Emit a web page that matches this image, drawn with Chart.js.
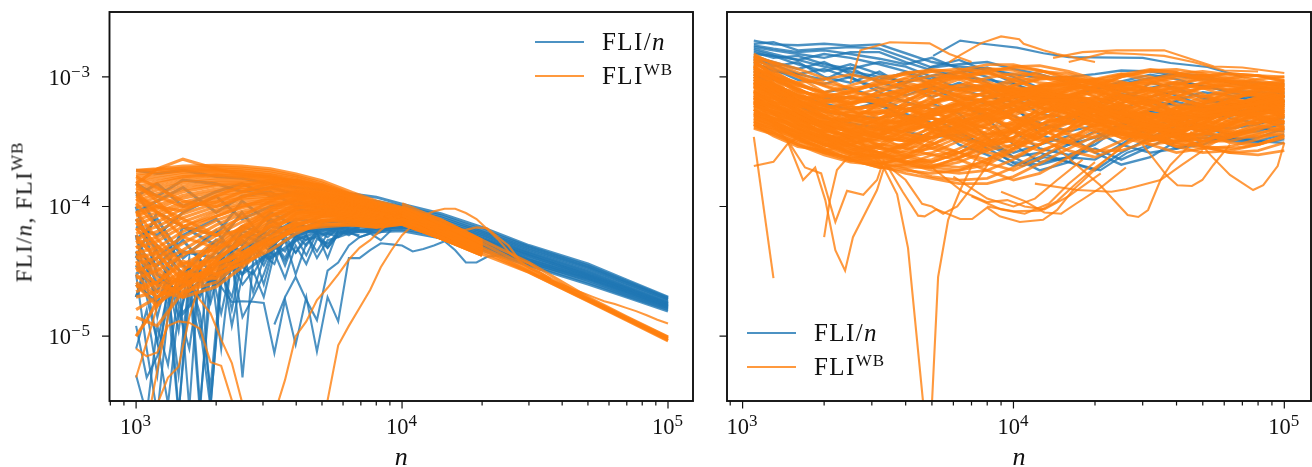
<!DOCTYPE html>
<html>
<head>
<meta charset="utf-8">
<script src="https://cdn.jsdelivr.net/npm/chart.js@4"></script>
<style>
  body { margin: 0; background: #fff; width: 1312px; height: 467px; overflow: hidden; position: relative; font-family: 'Liberation Serif', serif; color: #111; }
  canvas { position: absolute; top: 0; }
  .legend-line { position: absolute; height: 2.2px; width: 49px; }
  .legend-text { position: absolute; font-size: 25px; line-height: 24px; white-space: nowrap; letter-spacing: 1.4px; }
  .legend-text sup, #yTitle sup { font-size: 17px; line-height: 0; vertical-align: 9px; letter-spacing: 1px; }
  .tick-label { position: absolute; font-size: 22.5px; line-height: 21px; white-space: nowrap; }
  .tick-label sup { font-size: 17px; line-height: 0; vertical-align: 8px; letter-spacing: 1px; }
  #yTitle { position: absolute; left: 24px; top: 212px; font-size: 23px; line-height: 23px; letter-spacing: 1.3px; white-space: nowrap; transform: translate(-50%, -50%) rotate(-90deg); }
</style>
</head>
<body>
<canvas id="leftChart" width="712" height="467" style="left:0"></canvas>
<canvas id="rightChart" width="600" height="467" style="left:712px"></canvas>
<div id="yTitle">FLI/<i>n</i>, FLI<sup>WB</sup></div>
<script>
// all y values below are in units of 1e-6
const BLUE = 'rgba(31, 119, 180, 0.8)';
const ORANGE = 'rgba(255, 127, 14, 0.8)';
const _ = null;

const xTicks = [800, 900, 1000, 2000, 3000, 4000, 5000, 6000, 7000, 8000, 9000, 10000, 20000, 30000, 40000, 50000, 60000, 70000, 80000, 90000, 100000];
const xMajor = [1000, 10000, 100000];
const xExponents = ['3', '4', '5'];
const yTicks = [1e-3, 1e-4, 1e-5];
const yExponents = ['−3', '−4', '−5'];

const nBand = [1000, 1200, 1500, 2000, 2500, 3200, 4000, 5000, 6500, 8000, 10000, 14000, 20000, 30000, 50000, 70000, 100000];
const nTail = [10000, 14000, 20000, 30000, 50000, 70000, 100000];
const nFine = [1000, 1096, 1202, 1318, 1445, 1585, 1738, 1905, 2089, 2291, 2512, 2754, 3020, 3311, 3631, 3981, 4365, 4786, 5248, 5754, 6310, 6918, 7586, 8318, 9120, 10000, 10965, 12023, 13183, 14454, 15849, 17378, 19055, 20893, 22909, 25119, 27542, 30200, 33113, 36308, 39811, 43652, 47863, 52481, 57544, 63096, 69183, 75858, 83176, 91201, 100000];
const nRight = [1100, 1300, 1600, 2000, 2500, 3200, 4000, 5000, 6300, 8000, 10000, 12500, 16000, 20000, 25000, 32000, 40000, 50000, 63000, 80000, 100000];

const leftBlueBand = [
  [190, 180, 190, 170, 165, 150, 140, 135, 125, 118, 104, 88, 69, 50, 36, 27, 20],
  [150, 120, 160, 150, 130, 140, 125, 120, 115, 110, 100, 85, 66, 49, 35, 26.5, 19.7],
  [120, 150, 100, 130, 150, 120, 130, 110, 105, 105, 96, 82, 64, 47.5, 34, 25.8, 19.4],
  [90, 110, 140, 90, 120, 130, 100, 105, 100, 95, 92, 79, 62.5, 46.5, 33.4, 25.4, 19.2],
  [70, 60, 90, 120, 80, 100, 110, 95, 95, 92, 88, 76, 60.5, 45, 32, 24.5, 18.6],
  [40, 90, 70, 60, 110, 75, 95, 90, 88, 88, 85, 74, 59, 44, 31.4, 24, 18.2],
  [30, 40, 60, 80, 50, 90, 70, 85, 85, 83, 82, 72, 57, 43, 30.5, 23.5, 17.9],
  [60, 25, 45, 40, 70, 60, 80, 75, 80, 80, 78, 70, 55.5, 41.5, 30, 23, 17.5],
  [20, 50, 30, 55, 45, 70, 65, 78, 75, 76, 75, 67, 53, 40, 29, 22.5, 17.2],
  [100, 30, 20, 35, 60, 50, 72, 65, 72, 72, 72, 65, 51, 38.5, 28, 22, 16.8],
  [130, 70, 35, 25, 40, 65, 60, 68, 70, 68, 69, 62, 49, 37.5, 27, 21, 16.4],
  [25, 18, 25, 45, 30, 45, 62, 70, 66, 66, 67, 60, 47.5, 36, 26, 20.5, 16],
  [80, 45, 15, 30, 55, 40, 55, 66, 64, 64, 65, 57, 46, 35, 25.2, 20, 15.6],
  [45, 35, 55, 28, 65, 55, 68, 62, 63, 68, 70, 63, 50, 37, 27.5, 21.5, 16.6],
  [55, 80, 40, 65, 35, 80, 58, 72, 67, 62, 74, 68, 54, 39, 28.5, 22.2, 17],
  [35, 22, 70, 50, 90, 48, 75, 60, 78, 70, 80, 71, 56, 42, 29.5, 23.2, 17.7]
];

const leftBlueNoise = [
  [12, 4.8, 7, 18, 2.5, 28, 2.6, 35, 8, 42, 30, 48, 35, 52, 45, 60, 50, 65, 58, 68, 64, 70],
  [30, 8, 2.5, 15, 30, 2.8, 40, 3, 25, 45, 4.8, 38, 50, 42, 55, 30, 52, 60, 48, 62, 66, 70],
  [5, 2.5, 12, 6, 22, 35, 12, 2.8, 30, 20, 48, 22, 40, 55, 35, 58, 42, 63, 40, 66, 60, 68],
  [60, 25, 9, 3, 16, 8, 30, 18, 38, 12, 30, 45, 25, 50, 38, 55, 60, 45, 62, 58, 68],
  [20, 40, 14, 30, 2.6, 20, 10, 34, 15, 36, 25, 32, 20, 44, 28, 50, 36, 56, 52, 60],
  [40, 35, 18, 30, 14, 26, 20, 30, 24, 18.4, 18.6, 18.4, 18, 7.4, 19, 8.6, 20, 7.6, 20, 13, 40, 40, 46, 52, 51, 50, 45, 47, 50, 54, 46, 37, 37, 41, 42, 43],
  [_, _, _, _, _, _, _, _, _, _, _, _, _, 12.3, 20, 28.6, 19, 13.3, 32, 37, 50, 58, 62],
  [45, 20, 9, 22, 5, 28, 15, 4, 32, 38, 14, 20, 30, 52, 40, 60, 55, 62, 50, 65],
  [8, 16, 5, 26, 11, 40, 3, 22, 38, 16, 40, 52, 38, 58, 55, 44, 60, 40, 55, 58, 62, 60],
  [_, _, _, _, _, _, _, _, _, _, 34, 30, 42, 36, 60, 44, 56, 58, 48, 60, 64, 58, 62, 55, 66]
];

const leftOrangeFan = [
  [190, 195, 205, 208, 205, 195, 178, 158, 128, 110, 98, 79, 55],
  [188, 192, 198, 202, 198, 188, 172, 152, 124, 108, 97, 76, 54],
  [178, 186, 194, 196, 192, 182, 168, 148, 122, 106, 96, 74, 53],
  [170, 180, 188, 190, 186, 176, 162, 144, 120, 105, 95, 72, 52],
  [160, 172, 184, 188, 184, 174, 158, 140, 116, 104, 94, 71, 51],
  [150, 195, 232, 195, 176, 168, 154, 136, 116, 102, 93, 70, 51],
  [152, 164, 176, 180, 178, 170, 156, 138, 114, 100, 92, 69, 50],
  [142, 156, 170, 176, 174, 166, 152, 134, 112, 99, 91, 68, 50],
  [132, 150, 166, 174, 170, 162, 148, 130, 110, 98, 90, 68, 49],
  [125, 142, 158, 166, 166, 158, 146, 128, 110, 97, 90, 67, 49],
  [118, 134, 152, 160, 160, 154, 142, 126, 108, 96, 89, 66, 49],
  [110, 126, 144, 154, 154, 150, 138, 124, 106, 96, 88, 66, 48],
  [104, 118, 136, 148, 150, 146, 136, 122, 104, 95, 88, 65, 48],
  [98, 110, 130, 144, 146, 142, 132, 120, 104, 94, 87, 65, 48],
  [90, 102, 122, 136, 140, 138, 130, 118, 102, 94, 86, 64, 47],
  [84, 96, 116, 130, 136, 134, 128, 116, 102, 92, 86, 64, 47],
  [78, 90, 108, 124, 130, 130, 124, 114, 100, 90, 85, 63, 47],
  [72, 84, 102, 118, 126, 126, 122, 112, 98, 90, 85, 63, 47],
  [66, 76, 96, 112, 120, 124, 120, 110, 96, 88, 84, 62, 46],
  [62, 70, 88, 106, 116, 120, 116, 108, 96, 88, 84, 62, 46],
  [56, 64, 82, 100, 112, 116, 114, 106, 94, 86, 83, 61, 46],
  [52, 58, 76, 94, 106, 112, 112, 104, 92, 86, 83, 60, 46],
  [48, 54, 70, 90, 102, 108, 108, 102, 92, 85, 82, 60, 45],
  [44, 48, 64, 84, 98, 106, 106, 100, 90, 84, 82, 59, 45],
  [40, 44, 58, 78, 92, 102, 104, 98, 88, 82, 81, 59, 45],
  [36, 40, 52, 72, 88, 98, 100, 96, 86, 82, 80, 58, 44],
  [32, 36, 46, 66, 82, 94, 98, 94, 86, 80, 80, 58, 44],
  [28, 32, 42, 60, 76, 90, 94, 92, 84, 80, 79, 58, 44],
  [45, 30, 26, 44, 64, 82, 90, 90, 84, 78, 78, 57, 44],
  [38, 24, 32, 52, 70, 86, 92, 88, 82, 76, 78, 57, 43],
  [60, 38, 24, 38, 56, 76, 86, 88, 80, 76, 77, 58, 43],
  [24, 26, 36, 48, 60, 78, 88, 92, 84, 75, 76, 57, 43],
  [20, 22, 30, 40, 52, 68, 82, 86, 78, 74, 76, 57, 43],
  [16, 20, 26, 34, 44, 58, 72, 80, 76, 72, 75, 57, 43],
  [10, 18, 24, 32, 40, 54, 66, 72, 74, 70, 74, 57, 42],
  [55, 42, 28, 33, 39, 52, 66, 70, 72, 69, 73, 57, 42],
  [75, 50, 34, 36, 42, 56, 68, 74, 72, 70, 73, 57, 42],
  [34, 22, 20, 35, 48, 64, 74, 78, 76, 72, 76, 58, 43],
  [25, 17, 28, 46, 58, 72, 80, 84, 80, 74, 78, 59, 44],
  [14, 12, 22, 38, 54, 70, 84, 90, 86, 78, 80, 60, 44],
  [86, 100, 80, 60, 66, 84, 98, 100, 94, 84, 84, 62, 46],
  [115, 90, 70, 84, 100, 116, 122, 118, 104, 92, 86, 64, 47],
  [150, 110, 70, 60, 84, 110, 130, 128, 112, 98, 88, 70, 50],
  [130, 90, 58, 48, 70, 96, 118, 124, 110, 98, 90, 68, 50],
  [105, 70, 44, 46, 66, 92, 112, 120, 108, 96, 88, 66, 48],
  [92, 56, 36, 38, 58, 84, 104, 112, 104, 94, 86, 64, 48],
  [80, 48, 30, 30, 48, 72, 96, 108, 102, 92, 84, 62, 47],
  [68, 44, 26, 28, 42, 64, 88, 100, 98, 90, 84, 62, 46],
  [50, 34, 22, 26, 38, 58, 78, 92, 94, 88, 82, 60, 46],
  [42, 28, 20, 24, 34, 50, 70, 84, 90, 86, 80, 60, 45],
  [36, 25, 21, 30, 36, 46, 62, 76, 84, 82, 78, 58, 44],
  [30, 20, 24, 36, 44, 54, 66, 78, 82, 80, 76, 58, 44],
  [26, 20, 30, 28, 40, 60, 76, 86, 86, 80, 80, 60, 44],
  [22, 26, 38, 30, 36, 52, 72, 84, 88, 82, 82, 60, 45],
  [170, 140, 110, 100, 118, 140, 152, 146, 122, 104, 92, 72, 52],
  [140, 120, 100, 108, 130, 152, 158, 144, 120, 102, 92, 70, 52],
  [120, 100, 92, 120, 144, 160, 160, 142, 118, 102, 90, 70, 50]
];

const leftOrangeTail = [
  [105, 79, 55, 37, 20, 14.1, 9.9],
  [100, 74, 52, 34, 19.6, 13.9, 9.8],
  [95, 68, 48.5, 32.6, 19.2, 13.7, 9.6],
  [90, 65, 47, 31.8, 19, 13.5, 9.5],
  [86, 62, 45, 31.2, 18.8, 13.4, 9.3],
  [80, 58, 43, 31, 18.6, 13.2, 9.2]
];

const leftOrangeStray = [
  [45, 40, 32, 26, 27, 25.7, 19, 15, 9.4, 6.2, 3],
  [8, 7, 7.5, 12, 13, 12.7, 11.4, 6.3, 5.9, 3.2, 2.4],
  [4.8, 9, 17, 24, 28, 36, 44, 52, 58, 64],
  [10, 13, 20, 24, 22, 30, 40, 50],
  [_, 2, 5.5, 14, 30, 24, 34, 46, 56],
  [_, _, 3, 4.8, 5.8, 14, 26, 38, 44, 52],
  [_, _, _, _, _, _, _, _, _, _, _, _, _, 2.5, 4.6, 10, 13, 19, 23.6, 30, 39, 48, 55, 66, 76, 80, 76, 72, 70, 67, 66, 66, 69, 68, 58, 50, 39, 36, 32],
  [_, _, _, _, _, _, _, _, _, _, _, _, _, _, _, _, _, _, 3.2, 8.5, 12, 16.5, 22.7, 34, 46, 60, 72, 85, 92, 96, 96, 89, 80, 67, 56, 45, 38, 33.5, 31, 27.5],
  [_, _, _, _, _, _, _, _, _, _, _, _, _, _, _, _, _, _, _, _, _, _, _, _, _, _, _, _, _, _, _, _, _, _, _, _, _, _, 29.5, 27, 25, 23, 21.5, 20, 18.6, 17.7, 16.6, 15.6, 14.5, 13.4, 12.5]
];

const rightBlue = [
  [1900, 1780, 1750, 1800, 1740, 1780, 1520, 1300, 1200, 1150, 1050, 980, 1000, 1050, 1120, 1100, 1020, 960, 920, 900, 880],
  [1800, 1850, 1600, 1650, 1700, 1650, 1400, 1180, 1250, 1300, 1150, 1050, 900, 820, 880, 980, 1060, 1020, 900, 820, 800],
  [1700, 1600, 1500, 1400, 1550, 1550, 1300, 1120, 1000, 950, 880, 760, 720, 800, 920, 1040, 960, 840, 780, 760, 740],
  [1650, 1500, 1350, 1500, 1400, 1250, 1100, 950, 1080, 1180, 1000, 820, 640, 620, 700, 820, 900, 860, 760, 680, 660],
  [1550, 1400, 1450, 1250, 1150, 1300, 1200, 1000, 800, 700, 640, 620, 700, 840, 780, 660, 600, 620, 680, 700, 640],
  [1500, 1450, 1250, 1100, 1250, 1050, 900, 1020, 1100, 900, 700, 520, 480, 560, 700, 800, 720, 600, 540, 560, 600],
  [1450, 1300, 1150, 1300, 1050, 950, 1080, 860, 700, 620, 500, 400, 440, 600, 740, 640, 520, 480, 500, 540, 560],
  [1350, 1200, 1300, 1000, 900, 1100, 850, 700, 820, 860, 620, 360, 300, 340, 440, 560, 640, 580, 480, 440, 480],
  [1300, 1100, 1050, 1150, 980, 820, 720, 840, 640, 500, 380, 280, 250, 300, 420, 540, 500, 420, 400, 430, 500],
  [1250, 1150, 950, 880, 1000, 760, 640, 560, 620, 480, 300, 220, 240, 230, 300, 420, 460, 400, 360, 380, 440],
  [1150, 1000, 880, 760, 820, 680, 560, 620, 520, 340, 240, 260, 220, 190, 260, 340, 420, 380, 330, 340, 400],
  [1100, 950, 800, 680, 700, 600, 500, 480, 380, 280, 220, 210, 240, 280, 230, 290, 360, 360, 330, 320, 360],
  [1050, 880, 720, 620, 560, 640, 460, 400, 340, 300, 260, 300, 350, 260, 210, 240, 320, 340, 320, 310, 330],
  [1000, 820, 660, 540, 500, 480, 520, 440, 300, 250, 205, 240, 300, 380, 300, 260, 280, 320, 340, 320, 309],
  [950, 760, 600, 480, 440, 400, 380, 340, 360, 300, 240, 190, 220, 320, 440, 360, 280, 300, 360, 400, 380],
  [1600, 1450, 1350, 1200, 1100, 1000, 900, 1200, 1350, 1100, 900, 700, 600, 500, 480, 540, 660, 760, 720, 640, 620],
  [1750, 1650, 1550, 1600, 1500, 1380, 1250, 1400, 1150, 1000, 780, 580, 520, 460, 560, 700, 780, 700, 620, 600, 700],
  [1400, 1250, 1050, 950, 1180, 900, 800, 760, 900, 760, 560, 440, 380, 420, 620, 900, 820, 680, 600, 640, 760]
];

const rightOrange = [
  [1500, 1250, 1000, 760, 560, 430, 360, 340, 380, 480, 620, 780, 900, 960, 920, 800, 680, 600, 580, 620, 700],
  [1400, 1300, 1150, 980, 800, 640, 500, 400, 330, 300, 320, 390, 500, 640, 780, 880, 900, 820, 700, 600, 540],
  [1300, 1050, 820, 620, 480, 400, 380, 430, 540, 700, 860, 960, 980, 880, 740, 620, 540, 520, 560, 640, 720],
  [1250, 1150, 1000, 850, 720, 620, 560, 540, 560, 620, 700, 780, 820, 800, 720, 640, 580, 560, 580, 620, 660],
  [1200, 980, 760, 580, 440, 340, 280, 250, 260, 310, 400, 520, 660, 780, 840, 820, 740, 650, 590, 570, 590],
  [1150, 1050, 900, 740, 600, 480, 420, 420, 480, 580, 700, 800, 840, 800, 700, 600, 530, 500, 510, 560, 620],
  [1100, 900, 700, 540, 420, 350, 330, 360, 440, 560, 700, 840, 920, 920, 840, 720, 620, 550, 520, 520, 550],
  [1050, 960, 860, 760, 680, 640, 660, 740, 860, 980, 1060, 1040, 920, 760, 620, 520, 480, 500, 580, 700, 820],
  [1000, 820, 640, 500, 400, 340, 320, 340, 400, 500, 640, 760, 800, 720, 580, 460, 400, 400, 460, 560, 660],
  [980, 860, 720, 600, 500, 440, 440, 500, 620, 780, 920, 1000, 940, 800, 660, 560, 520, 560, 660, 780, 860],
  [950, 780, 600, 460, 360, 300, 280, 300, 360, 460, 580, 660, 660, 580, 480, 420, 420, 480, 580, 680, 740],
  [920, 820, 700, 600, 540, 520, 560, 640, 740, 820, 840, 780, 680, 580, 520, 500, 540, 620, 700, 740, 720],
  [900, 740, 580, 450, 370, 340, 360, 440, 560, 700, 800, 820, 740, 620, 520, 460, 460, 520, 600, 640, 620],
  [880, 800, 720, 660, 640, 660, 720, 800, 860, 860, 780, 660, 540, 460, 440, 480, 580, 700, 800, 840, 800],
  [850, 700, 540, 420, 340, 300, 300, 340, 420, 540, 660, 740, 720, 600, 480, 400, 380, 420, 500, 580, 620],
  [830, 760, 660, 560, 480, 420, 400, 420, 480, 560, 620, 640, 600, 540, 500, 500, 540, 600, 640, 640, 600],
  [800, 680, 540, 440, 380, 360, 400, 500, 640, 760, 820, 760, 620, 480, 380, 340, 360, 440, 560, 680, 760],
  [780, 720, 640, 560, 500, 460, 440, 440, 460, 500, 560, 640, 720, 780, 800, 760, 680, 600, 540, 520, 540],
  [760, 640, 500, 400, 320, 280, 260, 280, 340, 440, 560, 640, 640, 540, 420, 340, 320, 360, 440, 520, 580],
  [740, 680, 600, 540, 520, 540, 600, 660, 680, 640, 560, 480, 440, 460, 540, 660, 760, 820, 800, 720, 640],
  [720, 620, 500, 400, 340, 320, 340, 400, 500, 620, 700, 680, 560, 440, 360, 340, 400, 520, 660, 780, 860],
  [700, 640, 560, 500, 460, 440, 460, 520, 600, 680, 740, 760, 720, 640, 560, 500, 480, 500, 560, 640, 720],
  [680, 580, 460, 360, 290, 250, 240, 260, 320, 420, 540, 640, 700, 680, 600, 500, 420, 380, 400, 460, 540],
  [660, 600, 520, 440, 380, 340, 320, 340, 400, 500, 620, 740, 820, 840, 780, 660, 540, 460, 420, 440, 500],
  [640, 580, 520, 480, 460, 480, 540, 620, 700, 740, 720, 640, 540, 460, 420, 440, 500, 580, 640, 660, 640],
  [620, 540, 440, 350, 280, 240, 220, 230, 280, 360, 460, 540, 580, 560, 480, 400, 340, 320, 360, 440, 520],
  [600, 540, 480, 420, 380, 360, 380, 440, 520, 620, 700, 720, 660, 560, 460, 400, 380, 420, 500, 580, 640],
  [580, 520, 440, 360, 300, 280, 290, 340, 420, 520, 600, 620, 560, 460, 380, 340, 360, 440, 540, 620, 640],
  [560, 510, 460, 420, 400, 420, 480, 560, 620, 640, 600, 520, 440, 380, 360, 400, 480, 560, 600, 580, 520],
  [540, 480, 410, 340, 280, 240, 220, 220, 260, 330, 420, 520, 600, 620, 560, 460, 380, 340, 340, 390, 460],
  [520, 470, 420, 380, 360, 380, 440, 540, 660, 760, 800, 740, 620, 500, 420, 380, 400, 480, 580, 660, 700],
  [500, 440, 380, 320, 270, 230, 210, 200, 220, 270, 340, 420, 500, 540, 520, 440, 360, 320, 320, 360, 420],
  [480, 430, 380, 350, 340, 360, 420, 500, 560, 560, 500, 420, 360, 340, 380, 460, 560, 660, 720, 720, 660],
  [460, 410, 360, 310, 260, 220, 200, 200, 240, 310, 400, 480, 520, 500, 420, 340, 300, 300, 340, 400, 460],
  [440, 400, 350, 300, 260, 240, 250, 300, 380, 480, 560, 580, 520, 420, 340, 300, 320, 400, 500, 580, 600],
  [420, 390, 340, 280, 230, 200, 190, 180, 190, 230, 300, 380, 460, 500, 470, 380, 310, 280, 290, 330, 380],
  [410, 370, 300, 260, 240, 250, 300, 380, 460, 500, 480, 400, 320, 270, 270, 320, 400, 480, 520, 500, 440],
  [1350, 1200, 1020, 860, 760, 720, 760, 860, 1000, 1120, 1180, 1120, 1000, 880, 800, 780, 820, 900, 980, 1020, 1000],
  [1450, 1280, 1080, 900, 820, 860, 980, 1100, 1150, 1080, 940, 800, 700, 660, 700, 800, 920, 1020, 1060, 1020, 940],
  [1250, 1080, 880, 720, 640, 660, 760, 920, 1080, 1160, 1120, 1000, 880, 820, 860, 960, 1060, 1100, 1040, 940, 860],
  [1150, 980, 800, 660, 580, 580, 660, 800, 960, 1080, 1200, 1220, 1100, 960, 880, 900, 980, 1000, 920, 840, 800],
  [1080, 940, 780, 700, 760, 900, 1060, 1140, 1080, 920, 780, 700, 720, 840, 1000, 1120, 1140, 1060, 940, 860, 880],
  [1000, 860, 700, 600, 560, 620, 760, 940, 1120, 1240, 1240, 1120, 960, 860, 860, 940, 1020, 1040, 980, 900, 840],
  [900, 780, 660, 580, 620, 760, 920, 1020, 1000, 880, 740, 660, 700, 840, 1000, 1100, 1080, 960, 860, 820, 900],
  [760, 680, 620, 640, 760, 940, 1080, 1100, 960, 780, 640, 600, 680, 860, 1040, 1140, 1080, 920, 780, 740, 820],
  [640, 560, 480, 440, 480, 600, 760, 920, 1040, 1060, 960, 800, 640, 560, 580, 700, 860, 1000, 1060, 1020, 920],
  [560, 480, 400, 340, 330, 400, 540, 700, 820, 840, 740, 580, 460, 420, 480, 620, 780, 900, 940, 900, 820],
  [480, 420, 350, 300, 300, 360, 480, 640, 780, 860, 820, 680, 520, 400, 340, 360, 460, 620, 780, 880, 900],
  [430, 370, 310, 260, 235, 250, 310, 420, 560, 700, 780, 740, 600, 460, 360, 320, 350, 440, 560, 660, 720],
  [400, 360, 300, 250, 220, 210, 240, 320, 440, 600, 760, 860, 840, 700, 540, 420, 360, 360, 420, 500, 560],
  [700, 600, 470, 370, 300, 250, 220, 200, 190, 210, 270, 350, 440, 500, 490, 410, 330, 290, 280, 300, 350],
  [620, 530, 420, 330, 260, 215, 195, 170, 160, 165, 200, 260, 340, 420, 460, 430, 350, 290, 260, 270, 310],
  [520, 450, 370, 300, 250, 205, 180, 165, 150, 150, 170, 215, 280, 350, 400, 400, 350, 290, 260, 250, 270],
  [450, 400, 330, 270, 230, 200, 210, 250, 230, 190, 160, 180, 240, 320, 370, 350, 290, 260, 270, 300, 340],
  [880, 720, 560, 430, 330, 260, 215, 190, 180, 190, 230, 300, 390, 470, 520, 520, 470, 410, 370, 350, 360],
  [1050, 860, 660, 500, 380, 290, 240, 210, 200, 220, 280, 370, 480, 560, 600, 570, 490, 420, 380, 370, 400],
  [1380, 980, 640, 470, 390, 470, 640, 820, 720, 520, 380, 340, 460, 680, 900, 800, 600, 470, 520, 680, 800],
  [1220, 900, 620, 520, 590, 780, 860, 680, 480, 360, 400, 580, 820, 900, 720, 520, 420, 480, 660, 820, 760],
  [1120, 840, 560, 400, 340, 420, 600, 760, 640, 440, 320, 300, 400, 600, 780, 700, 520, 400, 440, 600, 720],
  [1040, 780, 520, 390, 460, 620, 700, 560, 400, 300, 340, 500, 700, 760, 620, 460, 380, 440, 600, 700, 640],
  [960, 720, 520, 430, 500, 560, 480, 380, 320, 380, 540, 720, 780, 640, 480, 400, 460, 620, 760, 720, 580],
  [900, 700, 480, 360, 300, 340, 460, 620, 740, 640, 460, 360, 400, 560, 720, 680, 500, 400, 420, 540, 660],
  [840, 640, 460, 380, 430, 520, 620, 560, 430, 340, 380, 520, 680, 620, 460, 380, 430, 560, 660, 600, 500],
  [780, 620, 430, 340, 380, 480, 580, 480, 360, 290, 330, 460, 620, 700, 580, 440, 370, 430, 560, 640, 600],
  [720, 560, 440, 360, 320, 350, 440, 540, 620, 520, 390, 320, 370, 510, 650, 600, 460, 380, 430, 540, 620],
  [660, 520, 400, 320, 360, 440, 500, 430, 340, 270, 300, 420, 580, 640, 520, 400, 340, 390, 510, 600, 560],
  [600, 500, 400, 310, 270, 300, 390, 480, 420, 330, 280, 340, 470, 600, 540, 410, 340, 360, 470, 560, 500],
  [560, 470, 360, 300, 340, 390, 340, 280, 240, 280, 380, 520, 620, 540, 400, 320, 350, 470, 560, 480, 400],
  [510, 440, 370, 330, 290, 260, 300, 380, 460, 400, 310, 270, 320, 440, 540, 470, 370, 320, 380, 480, 520],
  [470, 420, 340, 280, 250, 290, 360, 310, 260, 230, 280, 380, 500, 560, 460, 360, 310, 340, 440, 500, 440],
  [450, 380, 320, 290, 320, 290, 250, 220, 260, 340, 440, 400, 310, 260, 320, 440, 520, 440, 350, 340, 400],
  [1180, 880, 720, 640, 700, 820, 900, 820, 700, 640, 720, 860, 960, 880, 720, 640, 700, 840, 920, 860, 760],
  [1320, 1020, 800, 680, 620, 680, 800, 940, 1000, 880, 720, 680, 780, 940, 1040, 940, 780, 700, 760, 880, 940],
  [860, 700, 600, 560, 620, 720, 820, 760, 640, 600, 680, 820, 900, 800, 660, 620, 700, 820, 860, 780, 700],
  [740, 640, 580, 620, 700, 640, 560, 500, 560, 680, 780, 700, 580, 540, 620, 760, 840, 740, 620, 600, 660],
  [680, 600, 540, 500, 540, 620, 560, 480, 440, 520, 640, 720, 640, 520, 480, 560, 680, 720, 620, 560, 580],
  [620, 580, 500, 450, 420, 460, 540, 600, 540, 460, 500, 620, 700, 620, 500, 470, 540, 640, 680, 600, 540],
  [590, 540, 470, 410, 380, 400, 470, 530, 470, 400, 440, 560, 640, 560, 450, 420, 490, 590, 620, 560, 480],
  [530, 480, 430, 380, 350, 370, 430, 480, 430, 360, 380, 480, 560, 500, 400, 370, 440, 540, 580, 520, 450],
  [500, 450, 400, 340, 310, 330, 390, 430, 380, 320, 340, 430, 500, 450, 360, 330, 390, 480, 520, 470, 410],
  [770, 600, 460, 420, 470, 540, 470, 400, 370, 430, 530, 600, 520, 420, 400, 480, 580, 540, 450, 440, 500],
  [1000, 800, 620, 490, 420, 390, 430, 510, 590, 560, 470, 430, 500, 620, 680, 600, 500, 470, 530, 640, 700],
  [690, 520, 380, 300, 260, 240, 270, 340, 420, 480, 420, 340, 310, 370, 470, 520, 450, 370, 350, 410, 490],
  [560, 440, 330, 260, 225, 240, 290, 370, 320, 260, 240, 300, 400, 470, 430, 340, 290, 310, 400, 470, 430],
  [430, 350, 290, 270, 300, 260, 225, 205, 235, 300, 370, 330, 270, 240, 290, 380, 440, 380, 310, 300, 350],
  [640, 460, 340, 270, 235, 215, 235, 290, 260, 215, 190, 235, 320, 400, 370, 300, 260, 280, 360, 420, 390],
  [1440, 1120, 860, 760, 860, 1000, 1040, 920, 800, 820, 960, 1100, 1060, 920, 840, 900, 1020, 1020, 900, 800, 760],
  [1200, 1000, 900, 960, 1040, 940, 840, 880, 1000, 1100, 1020, 900, 860, 960, 1060, 1000, 880, 820, 880, 960, 1000],
  [820, 760, 680, 700, 780, 880, 960, 900, 800, 780, 860, 960, 1000, 920, 820, 800, 880, 960, 920, 820, 780],
  [920, 840, 760, 720, 680, 720, 800, 860, 780, 700, 740, 840, 880, 780, 680, 700, 800, 880, 840, 740, 700]
];

const rightBlueStray = [
  [[5050, 1450], [6360, 1900], [7700, 1800], [10300, 1680], [12900, 1520], [16000, 1420], [30000, 1400], [38000, 1280], [52000, 1190], [70000, 1000]],
  [[8900, 250], [10000, 215], [10830, 205], [13000, 240], [16000, 220], [20900, 190], [26300, 260], [32000, 300]]
];

const rightOrangeStray = [
  [[1100, 344], [1300, 28]],
  [[1100, 205], [1300, 221], [1460, 300], [1850, 420], [2300, 500]],
  [[2000, 58], [2100, 112], [2230, 191], [2450, 240], [2800, 300]],
  [[1300, 420], [1460, 325], [1672, 160], [1853, 200], [2020, 112], [2200, 46], [2390, 32], [2555, 58], [3135, 134], [3325, 198]],
  [[1500, 300], [1700, 200], [1950, 180], [2200, 76], [2430, 132], [2790, 123], [3135, 160], [3325, 230]],
  [[2500, 400], [3000, 250], [3325, 198], [3720, 124], [4080, 48], [4645, 3], [5000, 3], [5270, 28.6], [5740, 79], [6360, 134], [7040, 210], [8000, 320]],
  [[3000, 260], [3500, 190], [3900, 130], [4445, 85], [4700, 84], [5200, 95], [6360, 80], [7040, 80], [7990, 98], [8900, 84], [10560, 76], [12860, 79], [14500, 94], [16600, 134], [20900, 210], [28000, 350]],
  [[3300, 220], [4000, 160], [4600, 105], [5000, 100], [5500, 88], [6200, 100], [7200, 150], [8500, 250]],
  [[14000, 300], [20900, 146], [26400, 86], [28900, 83], [31400, 94], [34900, 160], [38000, 209], [45000, 300]],
  [[30000, 300], [36800, 173], [40300, 146], [45600, 144], [49800, 160], [54700, 209], [63000, 300]],
  [[45000, 380], [53300, 250], [63000, 175], [76700, 134], [83600, 146], [94500, 205], [100000, 310]],
  [[12000, 150], [17200, 134], [23000, 130], [26000, 136], [34900, 160], [42000, 210], [50000, 270]],
  [[8000, 100], [10000, 92], [12500, 93], [14500, 110], [17000, 150], [20000, 200], [25000, 280]],
  [[7000, 120], [9000, 95], [11000, 88], [13500, 105], [16000, 150], [20000, 220]],
  [[9000, 130], [11000, 110], [13000, 90], [15000, 88], [17000, 105], [21000, 140], [26000, 200]],
  [[6000, 170], [8000, 115], [10000, 100], [12000, 115], [14500, 160], [18000, 230]],
  [[5000, 200], [6500, 130], [8000, 108], [9500, 112], [11000, 100], [13000, 95], [16000, 120], [21000, 180]],
  [[2500, 900], [2720, 1600], [3500, 1850], [4900, 1810], [5800, 1500], [7000, 1300]],
  [[5800, 1300], [6360, 1470], [7600, 1820], [9000, 2050], [10500, 1950], [10900, 1800], [12900, 1600], [14500, 1500], [20000, 1300]],
  [[14000, 1400], [18000, 1550], [24000, 1600], [30000, 1600], [36000, 1600], [44000, 1400], [55000, 1200], [70000, 1180], [100000, 1070]],
  [[16000, 1300], [22000, 1530], [28000, 1500], [36000, 1450], [46000, 1300], [60000, 1120], [80000, 1100]]
];

const toPoints = (grid, values) =>
  values.map((v, i) => ({ x: grid[i], y: v == null ? null : v * 1e-6 }));
const pairPoints = (pairs) => pairs.map(([n, v]) => ({ x: n, y: v * 1e-6 }));

const line = (data, color, width = 2.1) => ({
  data,
  borderColor: color,
  backgroundColor: color,
  borderWidth: width,
  pointRadius: 0,
  tension: 0,
  fill: false,
  // lower order is painted on top, orange sits over blue
  order: color === BLUE ? 2 : 1,
});

const axisFrame = {
  id: 'axisFrame',
  afterDatasetsDraw(chart) {
    const { ctx, chartArea: a, scales } = chart;
    ctx.save();
    ctx.strokeStyle = '#111';
    ctx.lineWidth = 1.2;
    ctx.beginPath();
    for (const tick of scales.x.ticks) {
      const px = scales.x.getPixelForValue(tick.value);
      ctx.moveTo(px, a.bottom);
      ctx.lineTo(px, a.bottom + (tick.major ? 7.5 : 4.5));
    }
    for (const tick of scales.y.ticks) {
      const py = scales.y.getPixelForValue(tick.value);
      ctx.moveTo(a.left, py);
      ctx.lineTo(a.left - 7.5, py);
    }
    ctx.stroke();
    ctx.lineWidth = 1.9;
    ctx.strokeRect(a.left, a.top, a.right - a.left, a.bottom - a.top);
    ctx.restore();
  },
};

function makeChart(id, datasets, opts) {
  return new Chart(document.getElementById(id), {
    type: 'line',
    data: { datasets },
    plugins: [axisFrame],
    options: {
      responsive: false,
      animation: false,
      events: [],
      layout: { padding: { top: 12, right: opts.rightPad, left: 0, bottom: 0 } },
      plugins: { legend: { display: false }, tooltip: { enabled: false } },
      scales: {
        x: {
          type: 'logarithmic',
          min: opts.xMin,
          max: opts.xMax,
          grid: { display: false },
          border: { display: false },
          afterBuildTicks: (axis) => {
            axis.ticks = xTicks
              .filter((value) => value >= opts.xMin)
              .map((value) => ({ value, major: xMajor.includes(value) }));
          },
          afterFit: (axis) => {
            axis.height = 66;
            axis.paddingLeft = 0;
            axis.paddingRight = 0;
          },
          ticks: { autoSkip: false, maxRotation: 0, minRotation: 0, callback: () => '' },
          title: {
            display: true,
            text: 'n',
            color: '#111',
            padding: { top: 0, bottom: -7 },
            font: { family: 'Liberation Serif', size: 26, style: 'italic' },
          },
        },
        y: {
          type: 'logarithmic',
          min: 3.162e-6,
          max: 3.162e-3,
          grid: { display: false },
          border: { display: false },
          afterBuildTicks: (axis) => {
            axis.ticks = yTicks.map((value) => ({ value, major: true }));
          },
          afterFit: (axis) => {
            axis.width = opts.yWidth;
            axis.paddingTop = 0;
            axis.paddingBottom = 0;
          },
          ticks: { autoSkip: false, callback: () => '' },
        },
      },
    },
  });
}

function addTickLabel(exponent, css) {
  const label = document.createElement('div');
  label.className = 'tick-label';
  label.innerHTML = `10<sup>${exponent}</sup>`;
  Object.assign(label.style, css);
  document.body.append(label);
}

function addTickLabels(chart, canvasLeft, showY) {
  xMajor.forEach((value, i) => {
    addTickLabel(xExponents[i], {
      left: `${canvasLeft + chart.scales.x.getPixelForValue(value)}px`,
      top: '416px',
      transform: 'translateX(-50%)',
    });
  });
  if (!showY) return;
  yTicks.forEach((value, i) => {
    addTickLabel(yExponents[i], {
      right: `${1312 - 91}px`,
      top: `${chart.scales.y.getPixelForValue(value) - 10}px`,
    });
  });
}

function addLegend(lineLeft, top) {
  const rows = [
    { color: BLUE, html: 'FLI/<i>n</i>', y: top },
    { color: ORANGE, html: 'FLI<sup>WB</sup>', y: top + 34 },
  ];
  for (const row of rows) {
    const swatch = document.createElement('div');
    swatch.className = 'legend-line';
    swatch.style.left = `${lineLeft}px`;
    swatch.style.top = `${row.y - 1}px`;
    swatch.style.background = row.color;
    document.body.append(swatch);
    const text = document.createElement('div');
    text.className = 'legend-text';
    text.style.left = `${lineLeft + 67}px`;
    text.style.top = `${row.y - 12}px`;
    text.innerHTML = row.html;
    document.body.append(text);
  }
}

// the hand-read bundles have fewer lines than the original, so they are drawn wider
const leftChart = makeChart(
  'leftChart',
  [
    ...leftOrangeStray.map((v) => line(toPoints(nFine, v), ORANGE)),
    ...leftOrangeTail.map((v) => line(toPoints(nTail, v), ORANGE, 3)),
    ...leftOrangeFan.map((v) => line(toPoints(nBand, v), ORANGE, 3.2)),
    ...leftBlueBand.map((v) => line(toPoints(nBand, v), BLUE, 3)),
    ...leftBlueNoise.map((v) => line(toPoints(nFine, v), BLUE)),
  ],
  { xMin: 794.3, xMax: 124170, yWidth: 109.5, rightPad: 19 }
);

const rightChart = makeChart(
  'rightChart',
  [
    ...rightOrangeStray.map((p) => line(pairPoints(p), ORANGE)),
    ...rightOrange.map((v) => line(toPoints(nRight, v), ORANGE, 2.8)),
    ...rightBlue.map((v) => line(toPoints(nRight, v), BLUE, 2.4)),
    ...rightBlueStray.map((p) => line(pairPoints(p), BLUE)),
  ],
  { xMin: 875.8, xMax: 125460, yWidth: 15, rightPad: 1 }
);

addTickLabels(leftChart, 0, true);
addTickLabels(rightChart, 712, false);
addLegend(535, 42);
addLegend(747, 333);
</script>
</body>
</html>
